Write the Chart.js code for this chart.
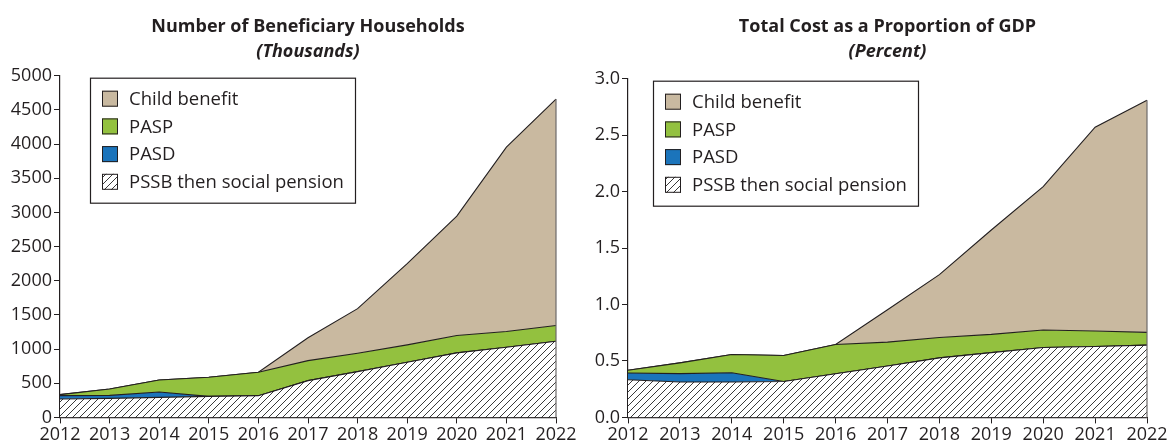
<!DOCTYPE html>
<html>
<head>
<meta charset="utf-8">
<script src="https://cdn.jsdelivr.net/npm/chart.js@4.4.1/dist/chart.umd.min.js"></script>
<style>
  html, body { margin: 0; padding: 0; background: #fff; }
  .wrap { position: absolute; top: 0; width: 586px; height: 447px; }
  #left { left: 0; }
  #right { left: 586px; }
</style>
</head>
<body>
<div class="wrap" id="left"><canvas id="households"></canvas></div>
<div class="wrap" id="right"><canvas id="cost"></canvas></div>
<script>
// years on the x axis
const years = ['2012', '2013', '2014', '2015', '2016', '2017', '2018', '2019', '2020', '2021', '2022'];

// beneficiary households, thousands (stacked)
const hhPssb = [269, 279, 293, 308, 318, 538, 670, 807, 944, 1027, 1115];
const hhPasd = [49, 44, 79, 0, 0, 0, 0, 0, 0, 0, 0];
const hhPasp = [15, 93, 176, 279, 342, 293, 269, 254, 254, 230, 230];
const hhChild = [0, 0, 0, 0, 0, 334, 652, 1190, 1747, 2697, 3313];

// total cost, percent of GDP (stacked)
const gdpPssb = [0.333, 0.313, 0.313, 0.318, 0.387, 0.455, 0.527, 0.574, 0.619, 0.628, 0.640];
const gdpPasd = [0.060, 0.075, 0.083, 0, 0, 0, 0, 0, 0, 0, 0];
const gdpPasp = [0.024, 0.095, 0.161, 0.230, 0.259, 0.212, 0.181, 0.161, 0.155, 0.137, 0.113];
const gdpChild = [0, 0, 0, 0, 0, 0.286, 0.557, 0.925, 1.270, 1.805, 2.057];

const hhTicks = [0, 500, 1000, 1500, 2000, 2500, 3000, 3500, 4000, 4500, 5000];
const gdpTicks = [0, 0.5, 1.0, 1.5, 2.0, 2.5, 3.0];

const seriesNames = ['PSSB then social pension', 'PASD', 'PASP', 'Child benefit'];

const ink = '#231f20';
const tan = '#c9b9a0';
const green = '#93c13f';
const blue = '#1b74bb';
const FONT = "'Open Sans', sans-serif";

// diagonal hatch used for the social pension band
function hatch() {
  const c = document.createElement('canvas');
  c.width = 7; c.height = 7;
  const g = c.getContext('2d');
  g.fillStyle = '#fff';
  g.fillRect(0, 0, 7, 7);
  g.strokeStyle = '#3a3a3a';
  g.lineWidth = 1;
  g.beginPath();
  g.moveTo(-1, 8); g.lineTo(8, -1);
  g.moveTo(-1, 1); g.lineTo(1, -1);
  g.moveTo(6, 8); g.lineTo(8, 6);
  g.stroke();
  return g.createPattern(c, 'repeat');
}

// thin grey edge closing the stack at the last year
const rightEdge = {
  id: 'rightEdge',
  afterDatasetsDraw(chart) {
    const metas = chart.getSortedVisibleDatasetMetas();
    const top = metas[metas.length - 1].data;
    const last = top[top.length - 1];
    const yScale = chart.scales.y;
    const ctx = chart.ctx;
    ctx.save();
    ctx.strokeStyle = '#6d6a6a';
    ctx.lineWidth = 1.2;
    ctx.beginPath();
    ctx.moveTo(last.x, last.y);
    ctx.lineTo(last.x, yScale.getPixelForValue(0));
    ctx.stroke();
    ctx.restore();
  }
};

// legend box drawn inside the plot, top-left
const boxLegend = {
  id: 'boxLegend',
  afterDraw(chart, args, opts) {
    const ctx = chart.ctx;
    const a = chart.chartArea;
    const x = a.left + opts.dx, y = a.top + 2;
    const w = 265, h = 125;
    ctx.save();
    ctx.fillStyle = '#fff';
    ctx.fillRect(x, y, w, h);
    ctx.strokeStyle = ink;
    ctx.lineWidth = 1.2;
    ctx.strokeRect(x + 0.5, y + 0.5, w, h);
    ctx.font = '18.5px ' + FONT;
    ctx.textBaseline = 'middle';
    const sets = chart.data.datasets.slice().reverse();
    sets.forEach((ds, i) => {
      const cy = y + 21 + i * 27.7;
      ctx.fillStyle = ds.backgroundColor;
      ctx.fillRect(x + 12, cy - 8, 16, 16);
      ctx.strokeStyle = ink;
      ctx.lineWidth = 1;
      ctx.strokeRect(x + 12.5, cy - 7.5, 15, 15);
      ctx.fillStyle = ink;
      ctx.fillText(ds.label, x + 39, cy + 1);
    });
    ctx.restore();
  }
};

function makeChart(id, stacks, ticks, yMax, fmt, opts) {
  const fills = [hatch(), blue, green, tan];
  const datasets = stacks.map((vals, i) => ({
    label: seriesNames[i],
    data: vals,
    backgroundColor: fills[i],
    borderColor: ink,
    borderWidth: 1.1,
    pointRadius: 0,
    tension: 0,
    fill: i === 0 ? 'origin' : '-1'
  }));
  return new Chart(document.getElementById(id), {
    type: 'line',
    data: { labels: years, datasets: datasets },
    options: {
      responsive: true,
      maintainAspectRatio: false,
      animation: false,
      layout: { padding: { left: opts.padLeft, right: opts.padRight, bottom: 0 } },
      plugins: {
        legend: { display: false },
        tooltip: { enabled: false },
        title: {
          display: true,
          fullSize: false,
          text: opts.title,
          color: ink,
          font: { family: FONT, size: 18, weight: 'bold' },
          padding: { top: 16, bottom: 3.5 }
        },
        subtitle: {
          display: true,
          fullSize: false,
          text: opts.sub,
          color: ink,
          font: { family: FONT, size: 18, weight: 'bold', style: 'italic' },
          padding: { top: 0, bottom: opts.subPad }
        },
        boxLegend: { dx: opts.legendDx }
      },
      scales: {
        x: {
          offset: false,
          grid: { drawOnChartArea: false, drawTicks: true, tickLength: 6, color: ink },
          border: { display: true, color: ink, width: 1.2 },
          ticks: { color: ink, font: { family: FONT, size: 18 }, maxRotation: 0, autoSkip: false, padding: 1 }
        },
        y: {
          stacked: true,
          min: 0,
          max: yMax,
          afterBuildTicks: s => { s.ticks = ticks.map(v => ({ value: v })); },
          afterFit: s => { s.width = opts.yWidth; },
          grid: { drawOnChartArea: false, drawTicks: true, tickLength: 6, color: ink },
          border: { display: true, color: ink, width: 1.2 },
          ticks: { color: ink, font: { family: FONT, size: 18 }, padding: 2, callback: fmt }
        }
      }
    },
    plugins: [rightEdge, boxLegend]
  });
}

makeChart('households', [hhPssb, hhPasd, hhPasp, hhChild], hhTicks, 5000,
  v => String(v),
  { title: 'Number of Beneficiary Households', sub: '(Thousands)', subPad: 13,
    padLeft: 0, padRight: 30, yWidth: 60, legendDx: 30 });

makeChart('cost', [gdpPssb, gdpPasd, gdpPasp, gdpChild], gdpTicks, 3,
  v => Number(v).toFixed(1),
  { title: 'Total Cost as a Proportion of GDP', sub: '(Percent)', subPad: 16,
    padLeft: 0, padRight: 25, yWidth: 42, legendDx: 25 });
</script>
</body>
</html>
